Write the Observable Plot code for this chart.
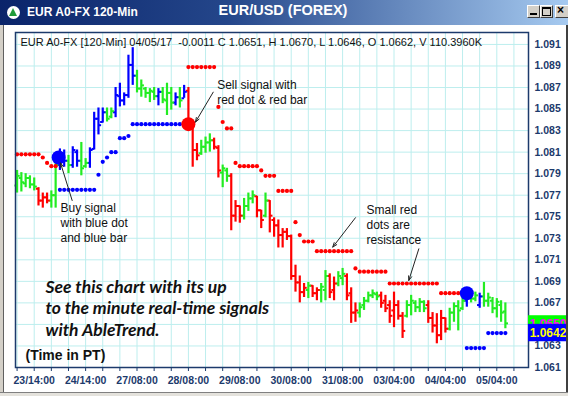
<!DOCTYPE html>
<html><head><meta charset="utf-8">
<script src="https://cdn.jsdelivr.net/npm/d3@7"></script>
<script src="https://cdn.jsdelivr.net/npm/@observablehq/plot@0.6"></script>
<style>
body{margin:0;background:#fff;}
#win{position:relative;width:568px;height:396px;overflow:hidden;background:#fff;font-family:"Liberation Sans",Arial,sans-serif;}
#title{position:absolute;left:0;top:0;width:568px;height:25px;background:linear-gradient(to right,#0a246a 0%,#24468a 40%,#a6caf0 100%);}
#icon{position:absolute;left:7px;top:6px;width:13px;height:13px;border-radius:50%;background:#fff;}
#icon:after{content:"";position:absolute;left:2px;top:2px;width:0;height:0;border-left:4.5px solid transparent;border-right:4.5px solid transparent;border-bottom:8px solid #1f9a3a;}
#t1{position:absolute;left:27px;top:5px;color:#fff;font-weight:bold;font-size:12px;white-space:nowrap;}
#t2{position:absolute;left:283px;top:2px;transform:translateX(-50%);color:#fff;font-weight:bold;font-size:14.5px;white-space:nowrap;}
.btn{position:absolute;top:5px;width:13px;height:13px;background:#d4d0c8;border:1px solid;border-color:#fff #404040 #404040 #fff;box-sizing:border-box;}
#chart{position:absolute;left:0;top:25px;}
#lb{position:absolute;left:0;top:25px;width:3px;height:371px;background:#d4d0c8;border-right:1px solid #606060;}
#rb{position:absolute;right:0;top:25px;width:2px;height:371px;background:#404040;}
#bb{position:absolute;left:0;top:392px;width:568px;height:4px;background:#e4e2dc;border-top:1px solid #808080;}
</style></head><body>
<div id="win">
  <div id="title">
    <div id="icon"></div>
    <span id="t1">EUR A0-FX 120-Min</span>
    <span id="t2">EUR/USD (FOREX)</span>
    <div class="btn" style="left:527px"><div style="position:absolute;left:2px;top:7px;width:7px;height:2px;background:#000"></div></div>
    <div class="btn" style="left:540px"><div style="position:absolute;left:1px;top:1px;width:9px;height:9px;box-sizing:border-box;border:1px solid #000;border-top-width:2px"></div></div>
    <div class="btn" style="left:555px;width:16px"><div style="position:absolute;left:1px;top:-3px;font:bold 12px 'Liberation Sans';color:#000">×</div></div>
  </div>
  <div id="chart"></div>
  <div id="lb"></div><div id="rb"></div><div id="bb"></div>
</div>
<script>
// ---- data ----
const trend = ("GGGGG"+"RRR"+"GG"+"BB"+"G"+"BB"+"GG"+"BBBB"+"GG"+"BBBBB"+"GGGGG"+"B"+"GGG"+"B"+"G"+"B"+
  "RRR"+"GGG"+"RR"+"GG"+"RRR"+"GGG"+"RR"+"G"+"RRRRRRRRR"+"G"+"RR"+"GG"+"RR"+"GG"+"RRR"+"GGGGG"+
  "RRRRRR"+"GGGGG"+"RRRRR"+"GGGG"+"B"+"GG"+"B"+"GGGGGG").split("");
const high = [1.0793,1.0791,1.0790,1.0788,1.0786,1.0777,1.0772,1.0772,1.0774,1.0800,
  1.0813,1.0812,1.0807,1.0815,1.0812,1.0819,1.0804,1.0814,1.0847,1.0851,
  1.0851,1.0851,1.0851,1.0870,1.0874,1.0865,1.0900,1.0907,1.0886,1.0877,
  1.0870,1.0869,1.0870,1.0869,1.0870,1.0874,1.0870,1.0865,1.0870,1.0872,
  1.0870,1.0835,1.0818,1.0821,1.0824,1.0827,1.0823,1.0816,1.0798,1.0795,
  1.0790,1.0765,1.0760,1.0767,1.0772,1.0774,1.0769,1.0756,1.0772,1.0765,
  1.0749,1.0747,1.0739,1.0739,1.0733,1.0705,1.0695,1.0688,1.0689,1.0686,
  1.0684,1.0688,1.0700,1.0697,1.0694,1.0699,1.0702,1.0697,1.0684,1.0670,
  1.0670,1.0675,1.0680,1.0682,1.0680,1.0680,1.0677,1.0672,1.0680,1.0672,
  1.0661,1.0672,1.0677,1.0672,1.0674,1.0672,1.0672,1.0661,1.0660,1.0663,
  1.0656,1.0665,1.0670,1.0672,1.0675,1.0684,1.0682,1.0680,1.0679,1.0689,
  1.0679,1.0675,1.0674,1.0672,1.0670];
const low = [1.0772,1.0773,1.0777,1.0776,1.0774,1.0760,1.0758,1.0762,1.0758,1.0758,
  1.0793,1.0796,1.0790,1.0795,1.0796,1.0788,1.0795,1.0795,1.0812,1.0826,
  1.0837,1.0838,1.0841,1.0842,1.0852,1.0853,1.0860,1.0872,1.0865,1.0861,
  1.0860,1.0856,1.0858,1.0853,1.0855,1.0844,1.0849,1.0853,1.0851,1.0860,
  1.0830,1.0796,1.0802,1.0807,1.0809,1.0810,1.0812,1.0786,1.0777,1.0782,
  1.0737,1.0745,1.0744,1.0747,1.0755,1.0762,1.0749,1.0739,1.0749,1.0735,
  1.0731,1.0721,1.0721,1.0728,1.0691,1.0680,1.0670,1.0675,1.0674,1.0675,
  1.0672,1.0670,1.0672,1.0674,1.0672,1.0685,1.0686,1.0672,1.0651,1.0652,
  1.0656,1.0663,1.0670,1.0674,1.0672,1.0665,1.0661,1.0651,1.0647,1.0654,
  1.0637,1.0656,1.0658,1.0661,1.0661,1.0661,1.0651,1.0642,1.0632,1.0635,
  1.0642,1.0644,1.0652,1.0644,1.0663,1.0666,1.0670,1.0671,1.0665,1.0666,
  1.0666,1.0660,1.0656,1.0652,1.0646];
const open = [1.0779,1.0786,1.0781,1.0786,1.0780,1.0776,1.0765,1.0768,1.0765,1.0770,
  1.0798,1.0807,1.0802,1.0798,1.0810,1.0802,1.0797,1.0800,1.0813,1.0841,
  1.0838,1.0847,1.0843,1.0847,1.0862,1.0858,1.0863,1.0891,1.0881,1.0869,
  1.0869,1.0865,1.0866,1.0862,1.0866,1.0858,1.0865,1.0856,1.0861,1.0860,
  1.0867,1.0832,1.0812,1.0809,1.0815,1.0819,1.0821,1.0814,1.0791,1.0793,
  1.0788,1.0751,1.0760,1.0751,1.0760,1.0767,1.0769,1.0756,1.0751,1.0765,
  1.0747,1.0742,1.0733,1.0736,1.0732,1.0695,1.0689,1.0680,1.0682,1.0686,
  1.0679,1.0682,1.0682,1.0695,1.0682,1.0688,1.0693,1.0695,1.0679,1.0661,
  1.0661,1.0668,1.0672,1.0677,1.0678,1.0677,1.0672,1.0668,1.0663,1.0668,
  1.0658,1.0658,1.0668,1.0670,1.0666,1.0671,1.0668,1.0656,1.0649,1.0640,
  1.0656,1.0646,1.0661,1.0667,1.0665,1.0672,1.0680,1.0674,1.0668,1.0676,
  1.0672,1.0672,1.0665,1.0668,1.0662];
const close = [1.0788,1.0782,1.0786,1.0780,1.0778,1.0765,1.0768,1.0765,1.0770,1.0798,
  1.0807,1.0802,1.0798,1.0812,1.0802,1.0795,1.0800,1.0812,1.0841,1.0835,
  1.0847,1.0841,1.0848,1.0863,1.0858,1.0863,1.0891,1.0881,1.0869,1.0872,
  1.0865,1.0867,1.0862,1.0866,1.0859,1.0865,1.0856,1.0861,1.0858,1.0866,
  1.0832,1.0812,1.0807,1.0815,1.0819,1.0821,1.0815,1.0793,1.0795,1.0788,
  1.0751,1.0760,1.0751,1.0760,1.0767,1.0770,1.0756,1.0747,1.0765,1.0751,
  1.0742,1.0733,1.0736,1.0732,1.0695,1.0689,1.0680,1.0684,1.0686,1.0679,
  1.0682,1.0685,1.0695,1.0680,1.0688,1.0695,1.0697,1.0677,1.0661,1.0663,
  1.0666,1.0672,1.0677,1.0679,1.0676,1.0670,1.0665,1.0658,1.0668,1.0658,
  1.0644,1.0668,1.0672,1.0666,1.0671,1.0665,1.0656,1.0649,1.0640,1.0656,
  1.0646,1.0661,1.0667,1.0663,1.0672,1.0680,1.0674,1.0677,1.0676,1.0672,
  1.0675,1.0665,1.0671,1.0661,1.0651];

const resistIdx = [0,1,2,3,4,5,6,7,8,9,40,41,42,43,44,45,46,47,48,49,50,51,52,53,54,55,56,57,58,59,60,
  61,62,63,64,65,66,67,68,69,70,71,72,73,74,75,76,77,78,79,80,81,82,83,84,85,86,
  87,88,89,90,91,92,93,94,95,96,97,98,99,100,101,102,103,104];
const resistVal = [1.0808,1.0808,1.0808,1.0808,1.0808,1.0808,1.0805,1.0800,1.0797,1.0797,
  1.0889,1.0889,1.0889,1.0889,1.0889,1.0889,1.0889,1.0852,1.0838,1.0832,1.0832,
  1.0800,1.0797,1.0797,1.0797,1.0797,1.0797,1.0793,1.0788,1.0788,1.0788,
  1.0774,1.0774,1.0774,1.0774,1.0745,1.0733,1.0727,1.0727,1.0727,
  1.0718,1.0718,1.0718,1.0718,1.0718,1.0718,1.0718,1.0718,1.0718,
  1.0702,1.0699,1.0699,1.0699,1.0699,1.0699,1.0699,1.0699,
  1.0688,1.0688,1.0688,1.0688,1.0688,1.0688,1.0688,1.0688,1.0688,1.0688,1.0688,1.0688,
  1.0679,1.0679,1.0679,1.0679,1.0679,1.0679];
const supportIdx = [10,11,12,13,14,15,16,17,18,19,20,21,22,23,24,25,26,27,28,29,30,31,32,33,34,35,36,37,38,39,
  105,106,107,108,109,110,111,112,113,114];
const supportVal = [1.0775,1.0775,1.0775,1.0775,1.0775,1.0775,1.0775,1.0775,1.0775,1.0789,1.0801,1.0805,1.0810,1.0810,
  1.0823,1.0823,1.0825,1.0836,1.0836,1.0836,1.0836,1.0836,1.0836,1.0836,1.0836,1.0836,1.0836,1.0836,1.0836,1.0836,
  1.0628,1.0628,1.0628,1.0628,1.0628,1.0642,1.0642,1.0642,1.0642,1.0642];
const signalIdx = [9.7, 40, 105];
const signalVal = [1.0805, 1.0836, 1.0679];
const signalTrend = ["B", "R", "B"];

const xTickIdx = [0,4,8,12,16,20,24,28,32,36,40,44,48,52,56,60,64,68,72,76,80,84,88,92,96,100,104,108,112,116];
const xLabelIdx = [4,16,28,40,52,64,76,88,100,112];
const xLabels = ["23/14:00","24/14:00","27/08:00","28/08:00","29/08:00","30/08:00","31/08:00","03/04:00","04/04:00","05/04:00"];
const yTicks = [1.061,1.063,1.065,1.067,1.069,1.071,1.073,1.075,1.077,1.079,1.081,1.083,1.085,1.087,1.089,1.091];

const header = "EUR A0-FX [120-Min] 04/05/17  -0.0011 C 1.0651, H 1.0670, L 1.0646, O 1.0662, V 110.3960K";
const noteX = [10.13, 46.72, 81.58];
const noteY = [1.07447, 1.08664, 1.07435];
const noteText = ["Buy signal\nwith blue dot\nand blue bar", "Sell signal with\nred dot & red bar", "Small red\ndots are\nresistance"];
const arrowX1 = [12.86, 45.79, 79.0, 93.79];
const arrowY1 = [1.07651, 1.08657, 1.07491, 1.07202];
const arrowX2 = [10.13, 41.65, 73.7, 91.45];
const arrowY2 = [1.08000, 1.08379, 1.07218, 1.06908];
const promoText = "See this chart with its up\nto the minute real-time signals\nwith AbleTrend.";
const promoPos = [6.63, 1.06658];
const timeText = "(Time in PT)";
const timePos = [1.96, 1.06212];
const tagVals = [1.0650, 1.0642];
const tagText = ["1.0650", "1.0642"];

// ---- build ----
const bars = high.map((h, i) => ({i, high: h, low: low[i], open: open[i], close: close[i], trend: trend[i]}));
const resist = resistIdx.map((i, k) => ({i, v: resistVal[k]}));
const support = supportIdx.map((i, k) => ({i, v: supportVal[k]}));
const signals = signalIdx.map((i, k) => ({i, v: signalVal[k], trend: signalTrend[k]}));
const notes = noteX.map((x, k) => ({x, y: noteY[k], text: noteText[k]}));
const arrows = arrowX1.map((x, k) => ({x1: x, y1: arrowY1[k], x2: arrowX2[k], y2: arrowY2[k]}));

const navy = "#1c3a6c";
const grid = "#bdeeee";
const plot = Plot.plot({
  width: 568, height: 371,
  marginTop: 7, marginBottom: 29, marginLeft: 15, marginRight: 40,
  style: {background: "transparent", fontFamily: "'Liberation Sans', Arial, sans-serif", overflow: "visible"},
  x: {domain: [-0.37, 119.4], axis: null},
  y: {domain: [1.061, 1.09211], axis: null},
  color: {domain: ["G", "B", "R"], range: ["#22ec22", "#0000ff", "#ff0000"]},
  marks: [
    Plot.ruleY(yTicks, {stroke: grid}),
    Plot.ruleX(xTickIdx, {stroke: grid}),
    Plot.text([header], {frameAnchor: "top-left", dx: 5, dy: 6, lineAnchor: "top", textAnchor: "start", fontSize: 11, fill: "#111"}),
    Plot.ruleX(bars, {x: "i", y1: "low", y2: "high", stroke: "trend", strokeWidth: 2.2}),
    Plot.link(bars, {x1: d => d.i - 0.62, x2: "i", y1: "open", y2: "open", stroke: "trend", strokeWidth: 2}),
    Plot.link(bars, {x1: "i", x2: d => d.i + 0.62, y1: "close", y2: "close", stroke: "trend", strokeWidth: 2}),
    Plot.dot(resist, {x: "i", y: "v", r: 2.1, fill: "#ff0000"}),
    Plot.dot(support, {x: "i", y: "v", r: 2.1, fill: "#0000ff"}),
    Plot.dot(signals, {x: "i", y: "v", r: 7, fill: "trend"}),
    Plot.text(notes, {x: "x", y: "y", text: "text", textAnchor: "start", lineAnchor: "middle", lineHeight: 1.25, fontSize: 12, fill: "#111"}),
    Plot.arrow(arrows, {x1: "x1", y1: "y1", x2: "x2", y2: "y2", stroke: "#222", strokeWidth: 1, headLength: 7, headAngle: 40}),
    Plot.text([promoText], {x: promoPos[0], y: promoPos[1], textAnchor: "start", lineAnchor: "middle", lineHeight: 1.25, fontSize: 17.5, fontFamily: "Lato", fontStyle: "italic", fontWeight: "bold", fill: "#111"}),
    Plot.text([timeText], {x: timePos[0], y: timePos[1], textAnchor: "start", fontSize: 14, fontWeight: "bold", fill: "#111"}),
    Plot.frame({stroke: navy, strokeWidth: 1.5}),
    Plot.axisX(xTickIdx, {tickSize: 4, tickFormat: () => "", stroke: navy}),
    Plot.axisX(xLabelIdx, {tickSize: 0, tickPadding: 9, tickFormat: d => xLabels[xLabelIdx.indexOf(d)], fill: navy, fontSize: 10.5, fontWeight: "bold"}),
    Plot.axisY(yTicks, {anchor: "right", tickSize: 0, tickPadding: 6, tickFormat: d3.format(".3f"), fill: navy, fontSize: 10.5, fontWeight: "bold"})
  ]
});
document.getElementById("chart").appendChild(plot);

// price tags on the right, positioned through the y scale
const ys = plot.scale("y");
const svg = d3.select(plot);
const tagColors = [["#00ff00", "#ff00ff"], ["#0000ff", "#ffff00"]];
tagVals.forEach((v, k) => {
  const cy = ys.apply(v);
  const g = svg.append("g");
  g.append("rect").attr("x", 528).attr("y", cy - 8.7).attr("width", 40).attr("height", 17.4).attr("fill", tagColors[k][0]);
  g.append("text").attr("x", 548).attr("y", cy).attr("dy", "0.36em").attr("text-anchor", "middle")
    .attr("font-size", 12).attr("font-weight", "bold").attr("fill", tagColors[k][1]).text(tagText[k]);
});
</script>
</body></html>
